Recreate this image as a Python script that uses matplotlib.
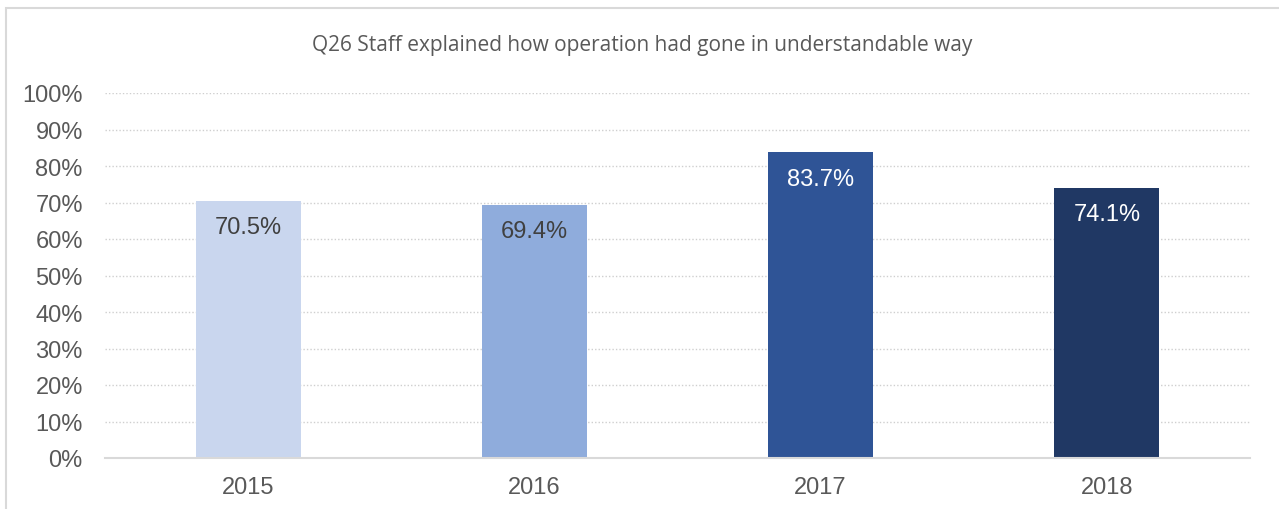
import matplotlib.pyplot as plt
from matplotlib.patches import Rectangle

# chart data
years = ["2015", "2016", "2017", "2018"]
values = [70.5, 69.4, 83.7, 74.1]
bar_colors = ["#C9D6EE", "#8FACDC", "#2F5496", "#203864"]
label_colors = ["#404040", "#404040", "white", "white"]
title = "Q26 Staff explained how operation had gone in understandable way"

fig = plt.figure(figsize=(12.79, 5.10), dpi=100)
ax = fig.add_axes([105 / 1279, 51 / 510, 1145 / 1279, 365 / 510])

x = range(len(years))
ax.bar(x, values, width=0.367, color=bar_colors, zorder=3)

for i, v in enumerate(values):
    ax.annotate(f"{v:.1f}%", (i, v), xytext=(0, -11), textcoords="offset points",
                ha="center", va="top", fontsize=17, color=label_colors[i],
                family="Liberation Sans", zorder=4)

ax.set_xlim(-0.5, 3.5)
ax.set_ylim(0, 100)
ax.set_yticks(range(0, 101, 10))
ax.set_yticklabels([f"{t}%" for t in range(0, 101, 10)])
ax.set_xticks(list(x))
ax.set_xticklabels(years)
ax.tick_params(length=0, labelsize=17, labelcolor="#595959")
ax.tick_params(axis="x", pad=13)
ax.tick_params(axis="y", pad=16)
for lab in ax.get_xticklabels() + ax.get_yticklabels():
    lab.set_family("Liberation Sans")

ax.grid(axis="y", linestyle=(0, (1, 1.5)), color="#CFCFCF", linewidth=1, zorder=0)
for s in ["top", "right", "left"]:
    ax.spines[s].set_visible(False)
ax.spines["bottom"].set_color("#D9D9D9")
ax.spines["bottom"].set_linewidth(1.5)
ax.spines["bottom"].set_zorder(5)

fig.text(642 / 1279, 1 - 45 / 510, title, ha="center", va="center",
         fontsize=15, color="#595959", family="Open Sans")

# outer chart frame
fig.patches.append(Rectangle((6 / 1279, -0.05), 1.1, 1 - 9 / 510 + 0.05,
                             transform=fig.transFigure, fill=False,
                             edgecolor="#D9D9D9", linewidth=1.5))

fig.savefig("out.png", dpi=100)
